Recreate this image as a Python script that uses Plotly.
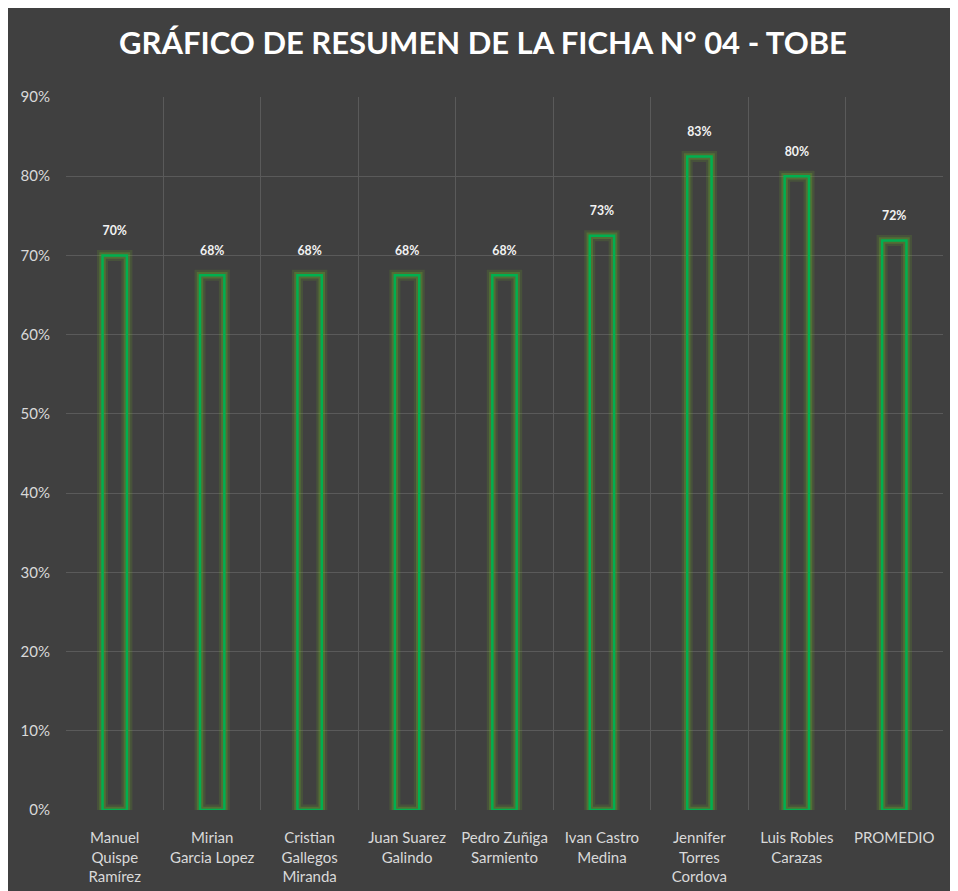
import plotly.graph_objects as go

categories = [
    "Manuel<br>Quispe<br>Ramírez",
    "Mirian<br>Garcia Lopez",
    "Cristian<br>Gallegos<br>Miranda",
    "Juan Suarez<br>Galindo",
    "Pedro Zuñiga<br>Sarmiento",
    "Ivan Castro<br>Medina",
    "Jennifer<br>Torres<br>Cordova",
    "Luis Robles<br>Carazas",
    "PROMEDIO",
]
values = [70, 67.5, 67.5, 67.5, 67.5, 72.5, 82.5, 80, 71.875]
y_ticks = [0, 10, 20, 30, 40, 50, 60, 70, 80, 90]
y_tick_labels = ["0%", "10%", "20%", "30%", "40%", "50%", "60%", "70%", "80%", "90%"]

FONT = "Lato, Open Sans, sans-serif"
BG = "#404040"
GRID = "#5a5a5a"
BAR_W = 0.25

fig = go.Figure()
# glow layers
fig.add_trace(go.Bar(
    x=categories, y=values, width=BAR_W,
    marker=dict(color="rgba(0,0,0,0)", line=dict(color="rgba(110,180,40,0.16)", width=11)),
    cliponaxis=False, hoverinfo="skip", showlegend=False,
))
fig.add_trace(go.Bar(
    x=categories, y=values, width=BAR_W,
    marker=dict(color="rgba(0,0,0,0)", line=dict(color="rgba(110,180,40,0.30)", width=6.5)),
    cliponaxis=False, hoverinfo="skip", showlegend=False,
))
# main outline
fig.add_trace(go.Bar(
    x=categories, y=values, width=BAR_W,
    marker=dict(color="rgba(0,0,0,0)", line=dict(color="#00B050", width=2.5)),
    texttemplate="<b>%{y:.0f}%</b><br><span style='font-size:8px'> </span>",
    textposition="outside",
    textfont=dict(family=FONT, size=15, color="#f2f2f2"),
    cliponaxis=False, showlegend=False,
))

fig.update_layout(
    width=950, height=883,
    barmode="overlay",
    paper_bgcolor=BG, plot_bgcolor=BG,
    margin=dict(l=58, r=15, t=89, b=81, autoexpand=False),
    title=dict(
        text="<b>GRÁFICO DE RESUMEN DE LA FICHA N° 04 - TOBE</b>",
        x=0.5, xanchor="center", xref="container", y=0.960, yanchor="middle",
        font=dict(family=FONT, size=31, color="#ffffff"),
    ),
    xaxis=dict(
        type="category", tickson="boundaries", showgrid=True, gridcolor=GRID, gridwidth=1,
        showline=False, zeroline=False, ticks="", automargin=False, tickangle=0,
        tickfont=dict(family=FONT, size=15, color="#d9d9d9"),
        ticklabelstandoff=17,
    ),
    yaxis=dict(
        range=[0, 90], tickvals=y_ticks, ticktext=y_tick_labels,
        showgrid=True, gridcolor=GRID, gridwidth=1, zeroline=False, showline=False,
        ticks="", automargin=False, tickfont=dict(family=FONT, size=15, color="#d9d9d9"),
        ticklabelstandoff=15,
    ),
)

fig.write_html("out.html")
